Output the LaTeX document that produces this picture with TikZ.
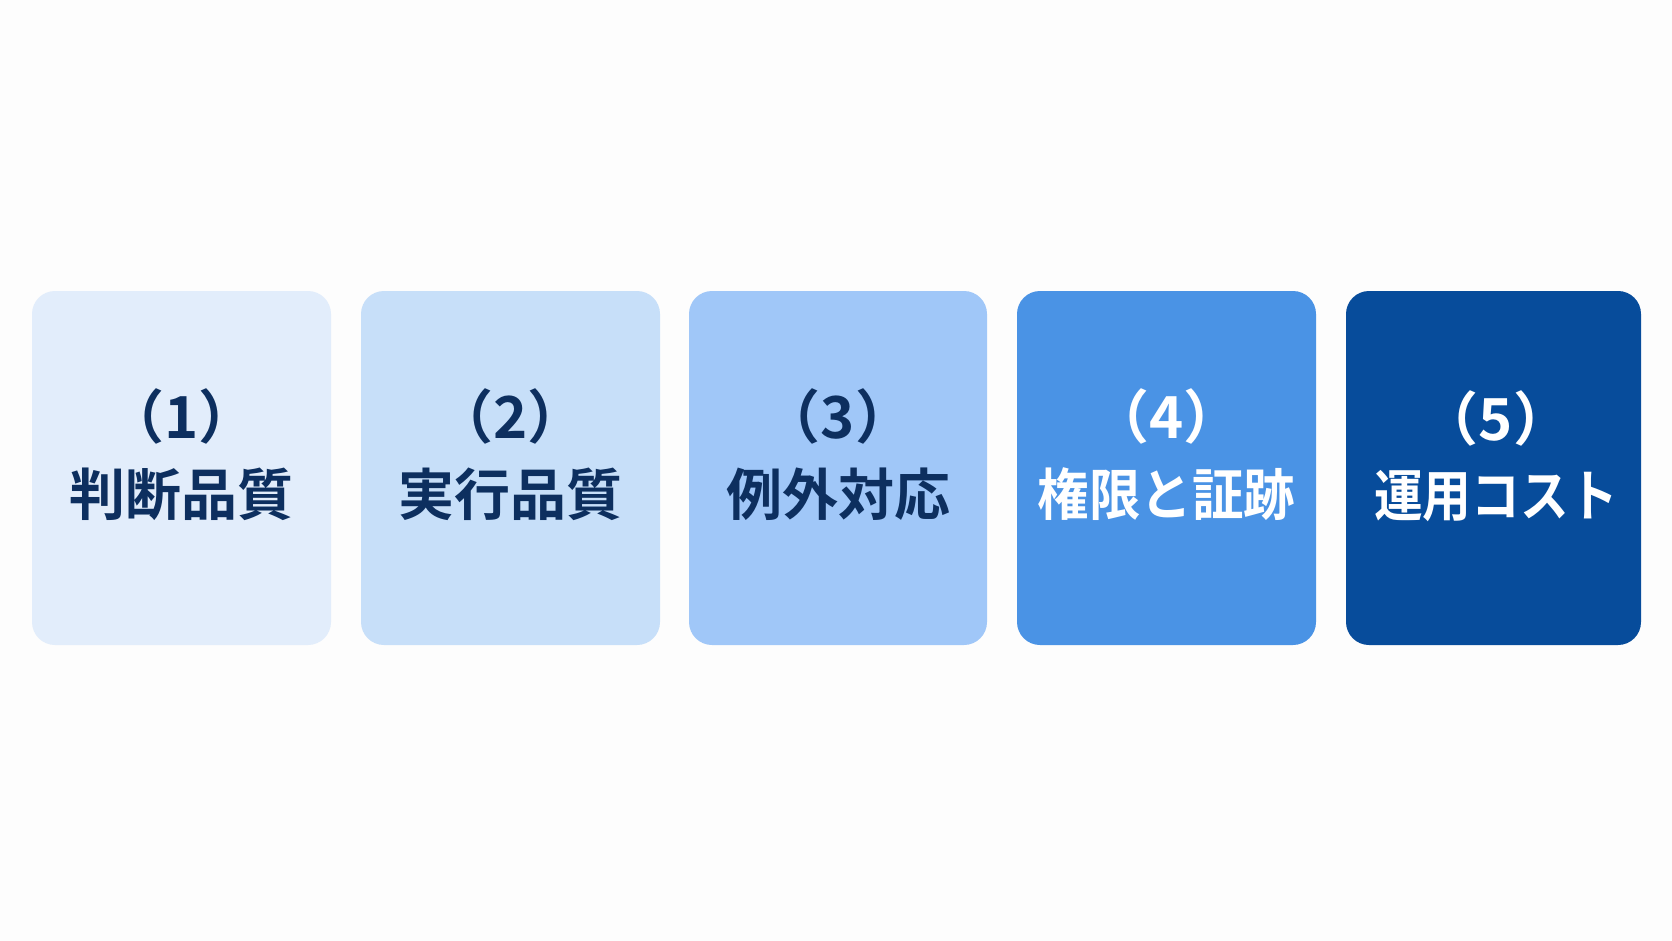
\documentclass[tikz,border=0pt]{standalone}
\usepackage{fontspec}
\usepackage{graphicx}
\newfontfamily\jp{Noto Sans CJK JP}[BoldFont={Noto Sans CJK JP Bold}]
\definecolor{bgc}{HTML}{FDFDFD}
\definecolor{cA}{HTML}{E2EDFB}
\definecolor{cB}{HTML}{C7DFF9}
\definecolor{cC}{HTML}{A0C7F8}
\definecolor{cD}{HTML}{4A93E5}
\definecolor{cE}{HTML}{074C9B}
\definecolor{navy}{HTML}{0D2F5F}
\tikzset{
  card/.style={draw=none, rounded corners=23pt},
  numtxt/.style={font=\jp\bfseries\fontsize{58}{60}\selectfont, inner sep=0pt, anchor=center},
  ttltxt/.style={font=\jp\bfseries\fontsize{56}{60}\selectfont, inner sep=0pt, anchor=center}
}
\begin{document}
\begin{tikzpicture}[x=1pt,y=-1pt]
\fill[bgc] (0,0) rectangle (1672,941);
\useasboundingbox (0,0) rectangle (1672,941);
\fill[cA,card] (32,291) rectangle (331,645);
\fill[cB,card] (361,291) rectangle (660,645);
\fill[cC,card] (689,291) rectangle (987,645);
\fill[cD,card] (1017,291) rectangle (1316,645);
\fill[cE,card] (1346,291) rectangle (1641,645);
\node[numtxt,text=navy] (n1) at (181.5,416) {（1）};
\node[ttltxt,text=navy] (t1) at (181.5,494) {判断品質};
\node[numtxt,text=navy] (n2) at (510.5,416) {（2）};
\node[ttltxt,text=navy] (t2) at (510.5,494) {実行品質};
\node[numtxt,text=navy] (n3) at (838,416) {（3）};
\node[ttltxt,text=navy] (t3) at (838,494) {例外対応};
\node[numtxt,text=white] (n4) at (1166.5,416) {（4）};
\node[ttltxt,text=white] (t4) at (1166.5,494) {\scalebox{0.92}[1]{権限と証跡}};
\node[numtxt,text=white] (n5) at (1496,418) {（5）};
\node[ttltxt,text=white] (t5) at (1496,496) {\scalebox{0.87}[1]{運用コスト}};
\end{tikzpicture}
\end{document}
